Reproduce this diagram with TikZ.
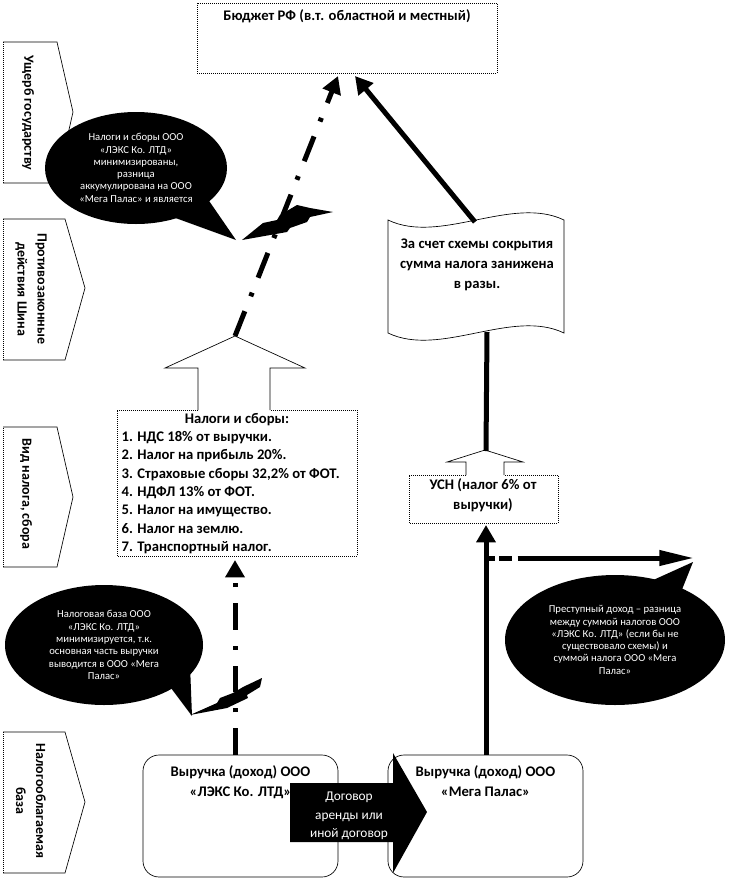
\documentclass[tikz,border=0pt]{standalone}
\usepackage{fontspec}
\setmainfont{Carlito}
\usetikzlibrary{arrows.meta,positioning,shapes.geometric}

\begin{document}
\begin{tikzpicture}[x=0.75pt,y=-0.75pt,
    boxline/.style={line width=0.5pt, densely dotted},
    boxtext/.style={font=\fontsize{11}{15}\selectfont\bfseries, align=center},
    sidetext/.style={rotate=-90, font=\fontsize{10.5}{15}\selectfont\bfseries, align=center},
    bubble/.style={ellipse, fill=black, text=white, align=center, inner sep=0pt,
                   font=\fontsize{8}{9.2}\selectfont},
    fatline/.style={line width=3.75pt},
    dashdot/.style={line width=3.75pt, dash pattern=on 20pt off 12pt on 3pt off 12pt},
    bigtip/.style={-{Triangle[length=13pt,width=14pt]}},
]
\useasboundingbox (0,0) rectangle (731,879);

% Budget box
\node[draw, boxline, minimum width=225pt, minimum height=52.5pt] (budget) at (347,38) {};
\node[boxtext, below=1.5pt of budget.north] (budgettitle) {Бюджет РФ (в.т. областной и местный)};
\coordinate (budgetleft) at (338,76);
\coordinate (budgetright) at (355,76);

% Side labels
\draw[line width=0.5pt] (3,42) -- (57,42) -- (73,112) -- (57,183) -- (3,183);
\draw[boxline] (3,183) -- (3,42);
\node[sidetext] (damage) at (28,113) {Ущерб государству};

\draw[line width=0.5pt] (3,219) -- (65,219) -- (85,288) -- (65,360) -- (3,360);
\draw[boxline] (3,360) -- (3,219);
\node[sidetext] (illegal) at (31,289) {Противозаконные\\действия Шина};

\draw[line width=0.5pt] (3,427) -- (57,427) -- (73,497) -- (57,567) -- (3,567);
\draw[boxline] (3,567) -- (3,427);
\node[sidetext] (taxkind) at (26,494) {Вид налога, сбора};

\draw[line width=0.5pt] (3,732) -- (65,732) -- (85,802) -- (65,873) -- (3,873);
\draw[boxline] (3,873) -- (3,732);
\node[sidetext] (taxbase) at (31,801) {Налогооблагаемая\\база};

% Taxes box with up arrow
\node[minimum width=180pt, minimum height=111pt] (taxes) at (237,483) {};
\draw[boxline] (198,410) -- (117,410) -- (117,556) -- (357,556) -- (357,410) -- (270,410);
\draw[line width=0.5pt] (198,410) -- (198,368) -- (165,368) -- (235,336)
    -- (305,368) -- (270,368) -- (270,410);
\coordinate (taxtop) at (235,336);
\coordinate (taxbottom) at (235,560);
\node[boxtext, below=0pt of taxes.north] (taxtitle) {Налоги и сборы:};
\node[boxtext, font=\fontsize{11}{13.75}\selectfont\bfseries, align=left,
      anchor=north west, inner sep=0pt] (taxitems)
    at ([xshift=3.5pt,yshift=-0.5pt]taxes.west |- taxtitle.south) {
    1. НДС 18\% от выручки.\\
    2. Налог на прибыль 20\%.\\
    3. Страховые сборы 32,2\% от ФОТ.\\
    4. НДФЛ 13\% от ФОТ.\\
    5. Налог на имущество.\\
    6. Налог на землю.\\
    7. Транспортный налог.
};

% USN box with up arrow
\draw[boxline] (466,475) -- (409,475) -- (409,523) -- (558,523) -- (558,475) -- (504,475);
\draw[line width=0.5pt] (466,475) -- (466,462) -- (447,462) -- (485,450)
    -- (523,462) -- (504,462) -- (504,475);
\node[boxtext] (usn) at (483,495) {УСН (налог 6\% от\\выручки)};
\coordinate (usntop) at (486,451);
\coordinate (usnbottom) at (486,525);

% Scroll
\draw[line width=0.5pt] (388,220) .. controls (440,245) and (512,195) .. (564,220)
    -- (564,333) .. controls (512,308) and (440,358) .. (388,333) -- cycle;
\node[boxtext] (scroll) at (477,265) {За счет схемы сокрытия\\сумма налога занижена\\в разы.};
\coordinate (scrolltop) at (475,222);
\coordinate (scrollbottom) at (487,332);

% Revenue boxes
\node[draw, line width=0.5pt, rounded corners=12pt, minimum width=146.25pt,
      minimum height=91.5pt] (lexbox) at (240.5,816) {};
\node[boxtext, below=5pt of lexbox.north] (lextitle) {Выручка (доход) ООО\\«ЛЭКС Ко. ЛТД»};
\node[draw, line width=0.5pt, rounded corners=12pt, minimum width=146.25pt,
      minimum height=91.5pt] (megabox) at (485.5,816) {};
\node[boxtext, below=5pt of megabox.north] (megatitle) {Выручка (доход) ООО\\«Мега Палас»};
\coordinate (lextop) at (235,755);
\coordinate (megatop) at (486,755);

% Lease arrow
\fill (290,783) -- (393,783) -- (393,753) -- (427,812) -- (393,873) -- (393,842)
    -- (290,842) -- cycle;
\node[text=white, align=center, font=\fontsize{10}{13.75}\selectfont] (lease) at (349,816)
    {Договор\\аренды или\\иной договор};

% Connectors
\draw[dashdot, bigtip] (taxtop) -- (budgetleft);
\draw[fatline, bigtip] (scrolltop) -- (budgetright);
\draw[fatline] (scrollbottom) -- (usntop);
\draw[fatline, bigtip] (megatop) -- (usnbottom);
\draw[dashdot, bigtip] (lextop) -- (taxbottom);
\coordinate (crimestart) at (489,558);
\coordinate (crimeend) at (694,558);
\draw[line width=3.75pt, dash pattern=on 4.5pt off 3pt on 10pt off 4pt on 200pt off 1pt,
      -{Triangle[length=26pt,width=11pt]}] (crimestart) -- (crimeend);

% Bubbles
\fill (170,216) -- (236,240) -- (205,195) -- cycle;
\node[bubble, minimum width=136.5pt, minimum height=84pt] (bubbletax) at (136,168)
    {Налоги и сборы ООО\\«ЛЭКС Ко. ЛТД»\\минимизированы,\\разница\\аккумулирована на ООО\\«Мега Палас» и является};
\fill (242,240) -- (263,223) -- (277,220) -- (280,215) -- (297,205) -- (310,208)
    -- (333,212) -- (310,217) -- (307,222) -- (290,228) -- (287,232) -- cycle;

\fill (165,680) -- (192,716) -- (190,665) -- cycle;
\node[bubble, minimum width=148.5pt, minimum height=90pt] (bubblebase) at (104,645)
    {Налоговая база ООО\\«ЛЭКС Ко. ЛТД»\\минимизируется, т.к.\\основная часть выручки\\выводится в ООО «Мега\\Палас»};
\fill (190,715) -- (217,703) -- (220,698) -- (233,693) -- (243,687) -- (262,678)
    -- (260,687) -- (247,695) -- (248,698) -- (227,708) -- cycle;

\fill (640,586) -- (693,562) -- (675,607) -- cycle;
\node[bubble, minimum width=165pt, minimum height=97.5pt] (bubblecrime) at (615,640)
    {Преступный доход – разница\\между суммой налогов ООО\\«ЛЭКС Ко. ЛТД» (если бы не\\существовало схемы) и\\суммой налога ООО «Мега\\Палас»};
\end{tikzpicture}
\end{document}
